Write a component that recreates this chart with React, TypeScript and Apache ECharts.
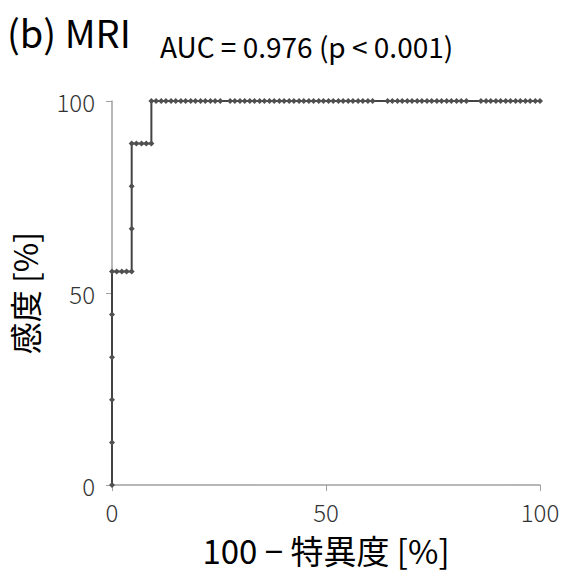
import React, { useEffect, useRef } from "react";
import * as echarts from "echarts";

// 100 - specificity [%] (x) and sensitivity [%] (y) for each ROC point
const fprValues: number[] = [
  0, 0, 0, 0, 0, 0, 1.1, 2.3, 3.4, 4.6, 4.6, 4.6, 4.6, 5.7, 6.9, 8.0, 9.2, 9.2,
  10.3, 11.5, 12.6, 13.8, 14.9, 16.1, 17.2, 18.4, 19.5, 20.7, 21.8, 23.0, 24.1, 25.3,
  27.6, 28.7, 29.9, 31.0, 32.2, 33.3, 34.5, 35.6, 36.8, 37.9, 39.1, 40.2, 41.4, 42.5,
  43.7, 44.8, 46.0, 47.1, 48.3, 49.4, 50.6, 51.7, 52.9, 54.0, 55.2, 56.3, 57.5, 58.6,
  59.8, 60.9, 64.4, 65.5, 66.7, 67.8, 69.0, 70.1, 71.3, 72.4, 73.6, 74.7, 75.9, 77.0,
  78.2, 79.3, 80.5, 81.6, 82.8, 86.2, 87.4, 88.5, 89.7, 90.8, 92.0, 93.1, 94.3, 95.4,
  96.6, 97.7, 98.9, 100,
];
const sensValues: number[] = [
  0, 11.1, 22.2, 33.3, 44.4, 55.6, 55.6, 55.6, 55.6, 55.6, 66.7, 77.8, 88.9, 88.9, 88.9, 88.9, 88.9, 100,
  100, 100, 100, 100, 100, 100, 100, 100, 100, 100, 100, 100, 100, 100,
  100, 100, 100, 100, 100, 100, 100, 100, 100, 100, 100, 100, 100, 100,
  100, 100, 100, 100, 100, 100, 100, 100, 100, 100, 100, 100, 100, 100,
  100, 100, 100, 100, 100, 100, 100, 100, 100, 100, 100, 100, 100, 100,
  100, 100, 100, 100, 100, 100, 100, 100, 100, 100, 100, 100, 100, 100,
  100, 100, 100, 100,
];
const axisTicks: number[] = [0, 50, 100];

const titleText = "(b) MRI";
const aucText = "AUC = 0.976 (p < 0.001)";
const xAxisName = "100 − 特異度 [%]";
const yAxisName = "感度 [%]";

const FONT = "'Noto Sans CJK JP', 'Liberation Sans', sans-serif";

export default function App() {
  const ref = useRef<HTMLDivElement>(null);
  useEffect(() => {
    if (!ref.current) return;
    const chart = echarts.init(ref.current, undefined, { renderer: "svg" });
    const data = fprValues.map((x, i) => [x, sensValues[i]]);
    chart.setOption({
      animation: false,
      backgroundColor: "#ffffff",
      textStyle: { fontFamily: FONT },
      graphic: [
        {
          type: "text",
          left: 7,
          top: 12,
          style: { text: titleText, fontSize: 38, fontFamily: FONT, fill: "#000" },
        },
        {
          type: "text",
          left: 160,
          top: 32,
          style: { text: aucText, fontSize: 28, fontFamily: FONT, fill: "#000" },
        },
      ],
      grid: { left: 111, right: 25, top: 101, bottom: 98, containLabel: false },
      xAxis: {
        type: "value",
        min: 0,
        max: 100,
        interval: 50,
        name: xAxisName,
        nameLocation: "middle",
        nameGap: 48,
        nameTextStyle: { fontSize: 33, color: "#000", fontFamily: FONT },
        axisLine: { show: true, lineStyle: { color: "#a0a0a0", width: 1.5 } },
        axisTick: { show: true, length: 6, inside: false, lineStyle: { color: "#a0a0a0" } },
        axisLabel: {
          fontSize: 24,
          fontWeight: 300,
          color: "#333",
          margin: 14,
          formatter: (v: number) => (axisTicks.includes(v) ? String(v) : ""),
        },
        splitLine: { show: false },
      },
      yAxis: {
        type: "value",
        min: 0,
        max: 100,
        interval: 50,
        name: yAxisName,
        nameLocation: "middle",
        nameRotate: 90,
        nameGap: 72,
        nameTextStyle: { fontSize: 32, color: "#000", fontFamily: FONT },
        axisLine: { show: true, lineStyle: { color: "#a0a0a0", width: 1.5 } },
        axisTick: { show: true, length: 6, inside: false, lineStyle: { color: "#a0a0a0" } },
        axisLabel: {
          fontSize: 24,
          fontWeight: 300,
          color: "#333",
          margin: 17,
          formatter: (v: number) => (axisTicks.includes(v) ? String(v) : ""),
        },
        splitLine: { show: false },
      },
      series: [
        {
          type: "line",
          data,
          symbol: "diamond",
          symbolSize: 6,
          lineStyle: { color: "#444444", width: 2 },
          itemStyle: { color: "#505050" },
          clip: false,
        },
      ],
    });
    return () => chart.dispose();
  }, []);
  return (
    <div
      ref={ref}
      style={{ position: "fixed", left: 0, top: 0, width: 565, height: 583 }}
    />
  );
}
